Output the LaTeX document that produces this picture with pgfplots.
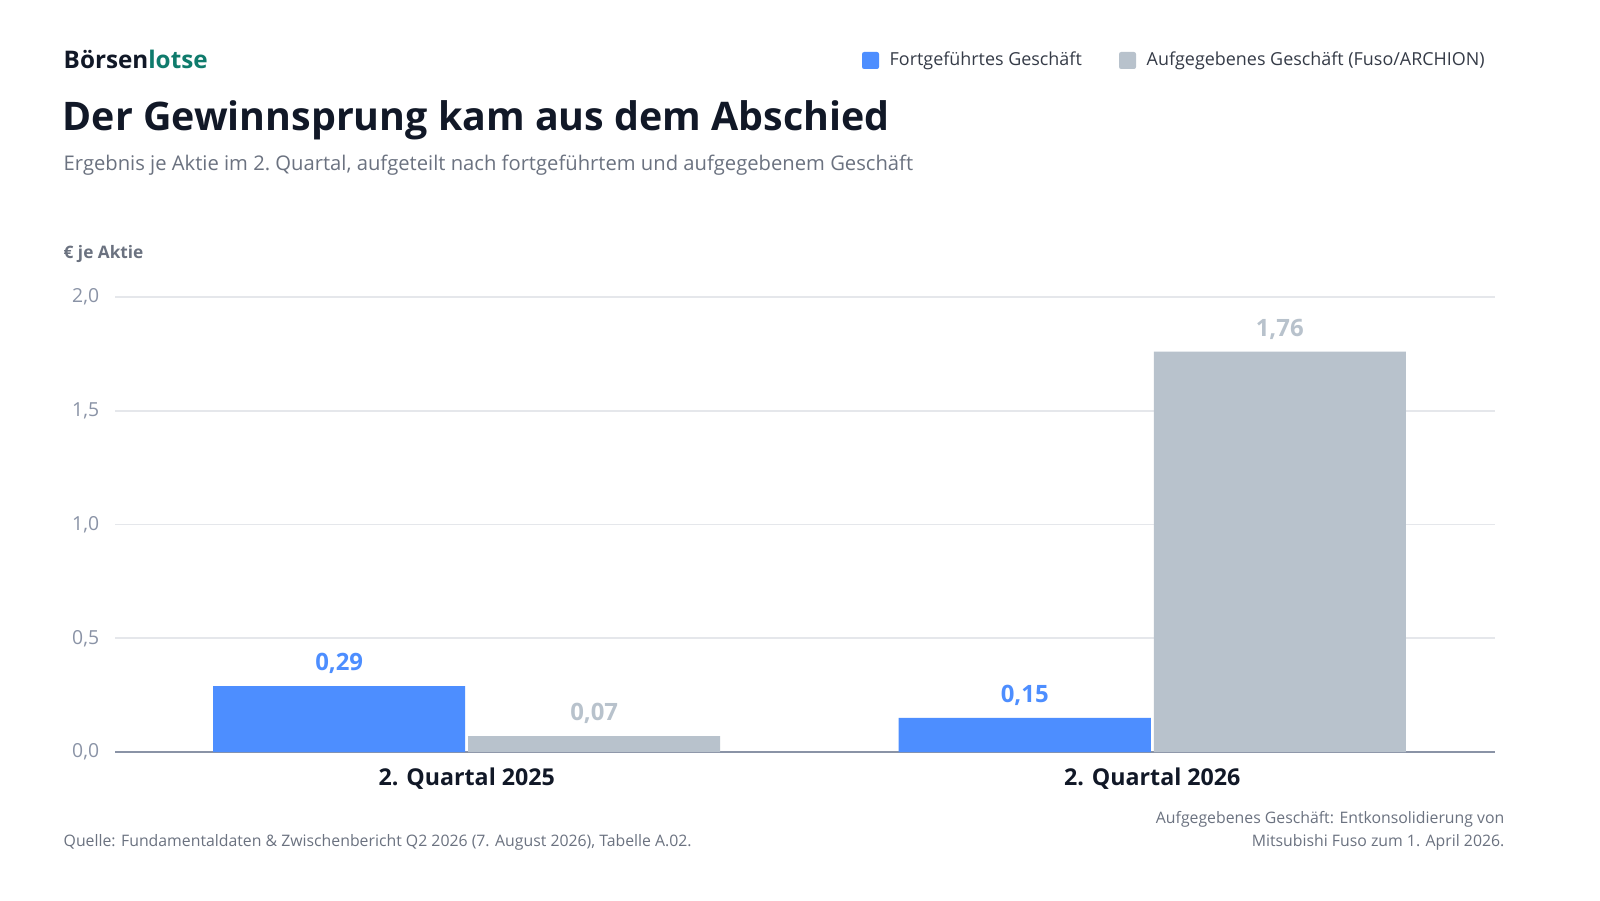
\documentclass[border=0pt]{standalone}
\usepackage{pgfplots}
\pgfplotsset{compat=1.18}
\usepackage{fontspec}
\setmainfont{Open Sans}
\definecolor{cblue}{HTML}{4D8EFF}
\definecolor{cgray}{HTML}{B8C2CC}
\definecolor{cdark}{HTML}{111827}
\definecolor{ctext}{HTML}{6B7280}
\definecolor{ctick}{HTML}{8A93A6}
\definecolor{cgreen}{HTML}{0F7B6C}
\definecolor{cgrid}{HTML}{E5E7EB}
\begin{document}
\begin{tikzpicture}
\useasboundingbox (0,0) rectangle (16,9);
\fill[white] (0,0) rectangle (16,9);
\node[anchor=base west,inner sep=0,font=\fontsize{6.9}{8}\selectfont\bfseries] at (0.63,8.31) {\textcolor{cdark}{Börsen}\textcolor{cgreen}{lotse}};
\node[anchor=base west,inner sep=0,font=\fontsize{11.2}{13}\selectfont\bfseries,text=cdark] at (0.62,7.69) {Der Gewinnsprung kam aus dem Abschied};
\node[anchor=base west,inner sep=0,font=\fontsize{5.75}{7}\selectfont,text=ctext] at (0.63,7.29) {Ergebnis je Aktie im 2.\ Quartal, aufgeteilt nach fortgeführtem und aufgegebenem Geschäft};
\node[anchor=base west,inner sep=0,font=\fontsize{4.9}{6}\selectfont\bfseries,text=ctext] at (0.63,6.42) {€ je Aktie};
% legend
\fill[cblue,rounded corners=0.6pt] (8.62,8.31) rectangle (8.79,8.48);
\node[anchor=base west,inner sep=0,font=\fontsize{5.1}{6}\selectfont,text=cdark!85] at (8.89,8.34) {Fortgeführtes Geschäft};
\fill[cgray,rounded corners=0.6pt] (11.19,8.31) rectangle (11.36,8.48);
\node[anchor=base west,inner sep=0,font=\fontsize{5.1}{6}\selectfont,text=cdark!85] at (11.46,8.34) {Aufgegebenes Geschäft (Fuso/ARCHION)};
% footer
\node[anchor=base west,inner sep=0,font=\fontsize{4.5}{5}\selectfont,text=ctext] at (0.63,0.54) {Quelle: Fundamentaldaten \& Zwischenbericht Q2 2026 (7. August 2026), Tabelle A.02.};
\node[anchor=base east,inner sep=0,font=\fontsize{4.5}{5}\selectfont,text=ctext] at (15.05,0.77) {Aufgegebenes Geschäft: Entkonsolidierung von};
\node[anchor=base east,inner sep=0,font=\fontsize{4.5}{5}\selectfont,text=ctext] at (15.05,0.54) {Mitsubishi Fuso zum 1. April 2026.};
\begin{axis}[at={(1.15cm,1.48cm)},anchor=south west,scale only axis,
 width=13.8cm,height=4.55cm,
 xmin=-0.513,xmax=1.5,ymin=0,ymax=2,
 ytick={0,0.5,1,1.5,2},
 yticklabel style={font=\fontsize{5.5}{6}\selectfont,text=ctick,xshift=-1pt,/pgf/number format/fixed,/pgf/number format/fixed zerofill,/pgf/number format/precision=1,/pgf/number format/use comma,/pgf/number format/assume math mode=true},
 xtick={0,1},xticklabels={2. Quartal 2025,2. Quartal 2026},
 xticklabel style={font=\fontsize{6.6}{8}\selectfont\bfseries,text=cdark,yshift=-1pt},
 major tick length=0pt,
 ymajorgrids,grid style={cgrid,line width=0.5pt},
 axis x line*=bottom, axis y line*=left,
 y axis line style={draw=none},
 x axis line style={ctick,line width=0.6pt,-},
 ybar,bar width=2.52cm,
 nodes near coords,
 nodes near coords style={font=\fontsize{6.8}{8}\selectfont\bfseries,/pgf/number format/fixed,/pgf/number format/fixed zerofill,/pgf/number format/precision=2,/pgf/number format/use comma,/pgf/number format/assume math mode=true},
 clip=false]
\addplot[fill=cblue,draw=none,bar shift=-1.275cm,every node near coord/.append style={/tikz/text=cblue}] coordinates {(0,0.29) (1,0.15)};
\addplot[fill=cgray,draw=none,bar shift=1.275cm,every node near coord/.append style={/tikz/text=cgray}] coordinates {(0,0.07) (1,1.76)};
\end{axis}
\end{tikzpicture}
\end{document}
